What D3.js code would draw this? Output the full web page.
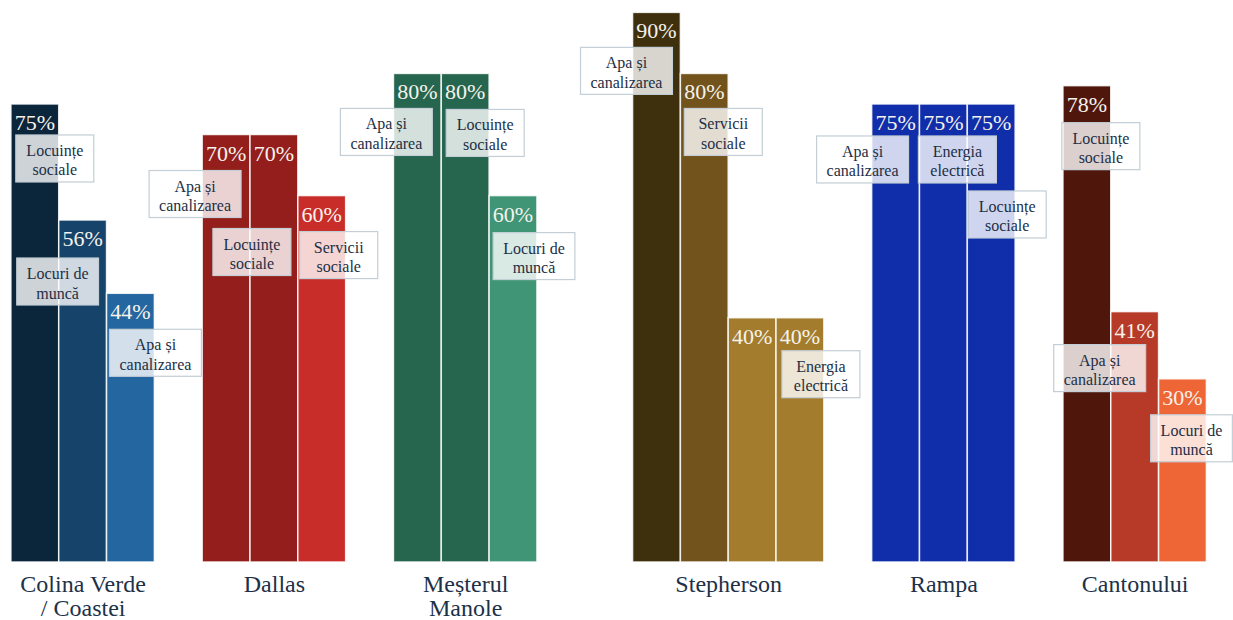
<!DOCTYPE html>
<html lang="ro">
<head>
<meta charset="utf-8">
<script src="https://cdn.jsdelivr.net/npm/d3@7"></script>
<style>
  html, body { margin: 0; padding: 0; background: #ffffff; }
  svg { display: block; }
  svg text { font-family: "Liberation Serif", "DejaVu Serif", serif !important; }
</style>
</head>
<body>
<svg id="chart" width="1233" height="620"></svg>
<script>
// Neighbourhoods and their top priorities (share of respondents, %)
const groupNames = ["Colina Verde / Coastei", "Dallas", "Meșterul Manole", "Stepherson", "Rampa", "Cantonului"];
const groupLabelLines = [["Colina Verde", "/ Coastei"], ["Dallas"], ["Meșterul", "Manole"], ["Stepherson"], ["Rampa"], ["Cantonului"]];

const colinaValues     = [75, 56, 44];
const dallasValues     = [70, 70, 60];
const mesterulValues   = [80, 80, 60];
const stephersonValues = [90, 80, 40, 40];
const rampaValues      = [75, 75, 75];
const cantonuluiValues = [78, 41, 30];

const colinaTopics     = ["Locuințe\nsociale", "Locuri de\nmuncă", "Apa și\ncanalizarea"];
const dallasTopics     = ["Apa și\ncanalizarea", "Locuințe\nsociale", "Servicii\nsociale"];
const mesterulTopics   = ["Apa și\ncanalizarea", "Locuințe\nsociale", "Locuri de\nmuncă"];
const stephersonTopics = ["Apa și\ncanalizarea", "Servicii\nsociale", null, "Energia\nelectrică"];
const rampaTopics      = ["Apa și\ncanalizarea", "Energia\nelectrică", "Locuințe\nsociale"];
const cantonuluiTopics = ["Locuințe\nsociale", "Apa și\ncanalizarea", "Locuri de\nmuncă"];

const groupValues = [colinaValues, dallasValues, mesterulValues, stephersonValues, rampaValues, cantonuluiValues];
const groupTopics = [colinaTopics, dallasTopics, mesterulTopics, stephersonTopics, rampaTopics, cantonuluiTopics];

// ---- styling and layout ----
const serif = "'Liberation Serif', 'DejaVu Serif', serif";
const groupColors = [
  ["#0b253a", "#16436a", "#2366a0"],
  ["#931e1c", "#931e1c", "#c92d2a"],
  ["#26654e", "#26654e", "#3f9576"],
  ["#3f300d", "#72531c", "#a37d2d", "#a37d2d"],
  ["#102daa", "#102daa", "#102daa"],
  ["#4f170b", "#b63a27", "#ef6636"]
];
// empty bar-width slots after each group
const groupGaps = [1, 1, 2, 1, 1, 0];
// label box placement: [dx from bar centre, dy from bar top]
const boxOffsets = [
  [[20, 31], [-25, 38], [25, 36]],
  [[-31, 36], [-22, 94], [17, 36]],
  [[-31, 35], [20, 36], [21, 37]],
  [[-30, 35], [19, 35], null, [21, 33]],
  [[-33, 32], [14, 32], [16, 87]],
  [[14, 37], [-35, 33], [9, 36]]
];

const baseY = 562;
const svg = d3.select("#chart");

// flatten into bars, inserting spacer slots between groups
const slots = [];
const bars = [];
groupNames.forEach((g, gi) => {
  groupValues[gi].forEach((v, bi) => {
    const key = g + "|" + bi;
    slots.push(key);
    bars.push({
      key, group: g, gi, bi, value: v,
      topic: groupTopics[gi][bi],
      color: groupColors[gi][bi],
      offset: boxOffsets[gi][bi]
    });
  });
  for (let s = 0; s < groupGaps[gi]; s++) slots.push(g + "|gap" + s);
});

const x = d3.scaleBand().domain(slots).range([10.9, 1206.4]).padding(0);
const y = d3.scaleLinear().domain([0, 100]).range([baseY, baseY - 610.7]);

// bars
svg.append("g").selectAll("rect")
  .data(bars)
  .join("rect")
  .attr("x", d => x(d.key))
  .attr("y", d => y(d.value))
  .attr("width", x.bandwidth())
  .attr("height", d => y(0) - y(d.value))
  .attr("fill", d => d.color)
  .attr("stroke", "rgba(255,255,255,0.85)")
  .attr("stroke-width", 1.5);

// percentage labels
svg.append("g").selectAll("text")
  .data(bars)
  .join("text")
  .attr("x", d => x(d.key) + x.bandwidth() / 2)
  .attr("y", d => y(d.value) + 26)
  .attr("text-anchor", "middle")
  .style("font-family", serif)
  .attr("font-size", 22)
  .attr("fill", "#f6f2ec")
  .text(d => d.value + "%");

// topic label boxes
const boxLayer = svg.append("g");
bars.filter(d => d.topic).forEach(d => {
  const cx = x(d.key) + x.bandwidth() / 2 + d.offset[0];
  const top = y(d.value) + d.offset[1];
  const lines = d.topic.split("\n");
  const g = boxLayer.append("g");
  const rect = g.append("rect");
  const t = g.append("text")
    .attr("text-anchor", "middle")
    .style("font-family", serif)
    .attr("font-size", 16)
    .attr("fill", "#1c2f45");
  lines.forEach((ln, i) => {
    t.append("tspan").attr("x", cx).attr("y", top + 21 + i * 19.5).text(ln);
  });
  const w = Math.max(78, t.node().getBBox().width + 20);
  rect.attr("x", cx - w / 2).attr("y", top)
    .attr("width", w).attr("height", 47)
    .attr("fill", "rgba(255,255,255,0.8)")
    .attr("stroke", "#c3ced6")
    .attr("stroke-width", 1.2);
});

// group labels on a bottom axis
const groupCenter = d3.scaleOrdinal()
  .domain(groupNames)
  .range(groupNames.map(g => {
    const keys = bars.filter(b => b.group === g).map(b => b.key);
    return (x(keys[0]) + x(keys[keys.length - 1]) + x.bandwidth()) / 2;
  }));

const axis = svg.append("g")
  .attr("transform", `translate(0,${baseY})`)
  .call(d3.axisBottom(groupCenter).tickSize(0).tickPadding(0));
axis.attr("font-family", null);
axis.select(".domain").remove();
axis.selectAll(".tick text")
  .style("font-family", serif)
  .attr("font-size", 24)
  .attr("fill", "#1d3148")
  .attr("dy", null)
  .attr("y", null)
  .text(null)
  .each(function(name) {
    const lines = groupLabelLines[groupNames.indexOf(name)];
    const sel = d3.select(this);
    lines.forEach((ln, i) => {
      sel.append("tspan").attr("x", 0).attr("y", 29.5 + i * 24.5).text(ln);
    });
  });
</script>
</body>
</html>
